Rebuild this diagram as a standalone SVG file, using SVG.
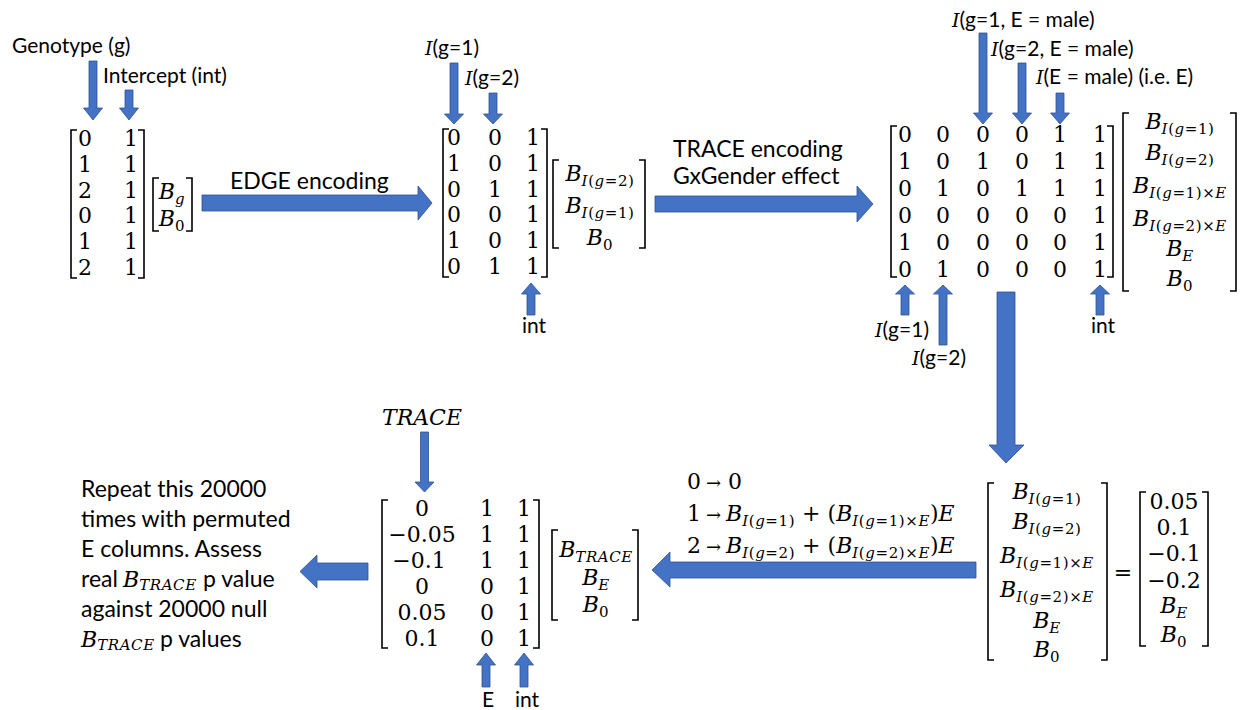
<svg xmlns="http://www.w3.org/2000/svg" width="1242" height="710" viewBox="0 0 1242 710">
<style>
.t{font-family:Lato,"Liberation Sans",sans-serif;font-size:21px;fill:#000}
.tb{font-family:Lato,"Liberation Sans",sans-serif;font-size:23px;fill:#000}
.m{font-family:"DejaVu Serif","Liberation Serif",serif;font-size:22px;fill:#000}
.mm{text-anchor:middle}
.i{font-style:italic}
.s{font-size:15px;letter-spacing:0.6px}
.arr{font-size:18px}
.li{font-family:"DejaVu Serif","Liberation Serif",serif;font-style:italic;font-size:19px}
.br{fill:none;stroke:#000;stroke-width:1.6}
.ar{fill:#4472C4;stroke:#2F528F;stroke-width:0.8}
</style>
<rect width="1242" height="710" fill="#fff"/>

<g id="connectors">
  <polygon class="ar" points="89,61 97,61 97,108 102.5,108 93,120 83.5,108 89,108"/>
  <polygon class="ar" points="125,90 133,90 133,108 138.5,108 129,120 119.5,108 125,108"/>
  <polygon class="ar" points="202,195 418,195 418,186 432,203 418,220 418,211 202,211"/>
  <polygon class="ar" points="450,63 458,63 458,114 463.5,114 454,124 444.5,114 450,114"/>
  <polygon class="ar" points="489,93 497,93 497,114 502.5,114 493,124 483.5,114 489,114"/>
  <polygon class="ar" points="531,283 540.5,294 535,294 535,315 527,315 527,294 521.5,294"/>
  <polygon class="ar" points="655,196 857,196 857,186 873,204 857,222 857,212 655,212"/>
  <polygon class="ar" points="979,33 987,33 987,113 992.5,113 983,124 973.5,113 979,113"/>
  <polygon class="ar" points="1018,63 1026,63 1026,113 1031.5,113 1022,124 1012.5,113 1018,113"/>
  <polygon class="ar" points="1056,93 1064,93 1064,113 1069.5,113 1060,124 1050.5,113 1056,113"/>
  <polygon class="ar" points="905,285 914.5,294 909,294 909,315 901,315 901,294 895.5,294"/>
  <polygon class="ar" points="943,285 952.5,294 947,294 947,345 939,345 939,294 933.5,294"/>
  <polygon class="ar" points="1100,285 1109.5,294 1104,294 1104,315 1096,315 1096,294 1090.5,294"/>
  <polygon class="ar" points="997,292 1015,292 1015,445 1024,445 1006,463 989,445 997,445"/>
  <polygon class="ar" points="976,562 976,578 670,578 670,587 652,570 670,552 670,562"/>
  <polygon class="ar" points="420.5,432 428.5,432 428.5,482 434,482 424.5,492 415,482 420.5,482"/>
  <polygon class="ar" points="486,653 495.5,665 490,665 490,687 482,687 482,665 476.5,665"/>
  <polygon class="ar" points="524,653 533.5,665 528,665 528,687 520,687 520,665 514.5,665"/>
  <polygon class="ar" points="368,563 368,580 317,580 317,588 300,571.5 317,555 317,563"/>
</g>

<g id="labels-edge">
  <text class="t" x="12" y="53">Genotype (g)</text>
  <text class="t" x="103" y="83">Intercept (int)</text>
  <text class="tb" x="230" y="189">EDGE encoding</text>
  <text class="t" x="425" y="55"><tspan class="li">I</tspan>(g=1)</text>
  <text class="t" x="465" y="85"><tspan class="li">I</tspan>(g=2)</text>
  <text class="t" x="522" y="333">int</text>
</g>

<g id="matrix-genotype">
  <path class="br" d="M77,130 H71 V278 H77 M138,130 H144 V278 H138"/>
  <text class="m mm" y="146"><tspan x="85">0</tspan><tspan x="131">1</tspan></text>
  <text class="m mm" y="172"><tspan x="85">1</tspan><tspan x="131">1</tspan></text>
  <text class="m mm" y="198"><tspan x="85">2</tspan><tspan x="131">1</tspan></text>
  <text class="m mm" y="223"><tspan x="85">0</tspan><tspan x="131">1</tspan></text>
  <text class="m mm" y="249"><tspan x="85">1</tspan><tspan x="131">1</tspan></text>
  <text class="m mm" y="275"><tspan x="85">2</tspan><tspan x="131">1</tspan></text>
</g>
<g id="vector-genotype">
  <path class="br" d="M159,178 H153 V231 H159 M186,178 H192 V231 H186"/>
  <text class="m mm" x="172" y="199"><tspan class="i">B</tspan><tspan class="s i" dy="5">g</tspan></text>
  <text class="m mm" x="172" y="226"><tspan class="i">B</tspan><tspan class="s" dy="5">0</tspan></text>
</g>

<g id="matrix-edge">
  <path class="br" d="M449,129 H443 V277 H449 M541,129 H547 V277 H541"/>
  <text class="m mm" y="145"><tspan x="454">0</tspan><tspan x="495">0</tspan><tspan x="533">1</tspan></text>
  <text class="m mm" y="171"><tspan x="454">1</tspan><tspan x="495">0</tspan><tspan x="533">1</tspan></text>
  <text class="m mm" y="197"><tspan x="454">0</tspan><tspan x="495">1</tspan><tspan x="533">1</tspan></text>
  <text class="m mm" y="222"><tspan x="454">0</tspan><tspan x="495">0</tspan><tspan x="533">1</tspan></text>
  <text class="m mm" y="248"><tspan x="454">1</tspan><tspan x="495">0</tspan><tspan x="533">1</tspan></text>
  <text class="m mm" y="274"><tspan x="454">0</tspan><tspan x="495">1</tspan><tspan x="533">1</tspan></text>
</g>
<g id="vector-edge">
  <path class="br" d="M559,160 H553 V248 H559 M639,160 H645 V248 H639"/>
  <text class="m mm" x="600" y="181"><tspan class="i">B</tspan><tspan class="s" dy="5"><tspan class="i">I</tspan>(<tspan class="i">g</tspan>=2)</tspan></text>
  <text class="m mm" x="600" y="213"><tspan class="i">B</tspan><tspan class="s" dy="5"><tspan class="i">I</tspan>(<tspan class="i">g</tspan>=1)</tspan></text>
  <text class="m mm" x="600" y="245"><tspan class="i">B</tspan><tspan class="s" dy="5">0</tspan></text>
</g>

<g id="labels-trace">
  <text class="tb" x="673" y="157">TRACE encoding</text>
  <text class="tb" x="673" y="184">GxGender effect</text>
  <text class="t" x="952" y="27"><tspan class="li">I</tspan>(g=1, E = male)</text>
  <text class="t" x="991" y="56"><tspan class="li">I</tspan>(g=2, E = male)</text>
  <text class="t" x="1036" y="84"><tspan class="li">I</tspan>(E = male) (i.e. E)</text>
  <text class="t" x="875" y="337"><tspan class="li">I</tspan>(g=1)</text>
  <text class="t" x="912" y="365"><tspan class="li">I</tspan>(g=2)</text>
  <text class="t" x="1091" y="333">int</text>
</g>

<g id="matrix-trace">
  <path class="br" d="M897,126 H891 V277 H897 M1107,126 H1113 V277 H1107"/>
  <text class="m mm" y="142"><tspan x="905">0</tspan><tspan x="943">0</tspan><tspan x="983">0</tspan><tspan x="1022">0</tspan><tspan x="1060">1</tspan><tspan x="1100">1</tspan></text>
  <text class="m mm" y="169"><tspan x="905">1</tspan><tspan x="943">0</tspan><tspan x="983">1</tspan><tspan x="1022">0</tspan><tspan x="1060">1</tspan><tspan x="1100">1</tspan></text>
  <text class="m mm" y="196"><tspan x="905">0</tspan><tspan x="943">1</tspan><tspan x="983">0</tspan><tspan x="1022">1</tspan><tspan x="1060">1</tspan><tspan x="1100">1</tspan></text>
  <text class="m mm" y="223"><tspan x="905">0</tspan><tspan x="943">0</tspan><tspan x="983">0</tspan><tspan x="1022">0</tspan><tspan x="1060">0</tspan><tspan x="1100">1</tspan></text>
  <text class="m mm" y="250"><tspan x="905">1</tspan><tspan x="943">0</tspan><tspan x="983">0</tspan><tspan x="1022">0</tspan><tspan x="1060">0</tspan><tspan x="1100">1</tspan></text>
  <text class="m mm" y="277"><tspan x="905">0</tspan><tspan x="943">1</tspan><tspan x="983">0</tspan><tspan x="1022">0</tspan><tspan x="1060">0</tspan><tspan x="1100">1</tspan></text>
</g>
<g id="vector-trace">
  <path class="br" d="M1129,113 H1123 V291 H1129 M1230,113 H1236 V291 H1230"/>
  <text class="m mm" x="1180" y="129"><tspan class="i">B</tspan><tspan class="s" dy="5"><tspan class="i">I</tspan>(<tspan class="i">g</tspan>=1)</tspan></text>
  <text class="m mm" x="1180" y="160"><tspan class="i">B</tspan><tspan class="s" dy="5"><tspan class="i">I</tspan>(<tspan class="i">g</tspan>=2)</tspan></text>
  <text class="m mm" x="1180" y="193"><tspan class="i">B</tspan><tspan class="s" dy="5"><tspan class="i">I</tspan>(<tspan class="i">g</tspan>=1)×<tspan class="i">E</tspan></tspan></text>
  <text class="m mm" x="1180" y="226"><tspan class="i">B</tspan><tspan class="s" dy="5"><tspan class="i">I</tspan>(<tspan class="i">g</tspan>=2)×<tspan class="i">E</tspan></tspan></text>
  <text class="m mm" x="1180" y="256"><tspan class="i">B</tspan><tspan class="s i" dy="5">E</tspan></text>
  <text class="m mm" x="1180" y="286"><tspan class="i">B</tspan><tspan class="s" dy="5">0</tspan></text>
</g>

<g id="coefficients">
  <path class="br" d="M994,483 H988 V660 H994 M1101,483 H1107 V660 H1101"/>
  <text class="m mm" x="1047" y="499"><tspan class="i">B</tspan><tspan class="s" dy="5"><tspan class="i">I</tspan>(<tspan class="i">g</tspan>=1)</tspan></text>
  <text class="m mm" x="1047" y="529"><tspan class="i">B</tspan><tspan class="s" dy="5"><tspan class="i">I</tspan>(<tspan class="i">g</tspan>=2)</tspan></text>
  <text class="m mm" x="1047" y="563"><tspan class="i">B</tspan><tspan class="s" dy="5"><tspan class="i">I</tspan>(<tspan class="i">g</tspan>=1)×<tspan class="i">E</tspan></tspan></text>
  <text class="m mm" x="1047" y="597"><tspan class="i">B</tspan><tspan class="s" dy="5"><tspan class="i">I</tspan>(<tspan class="i">g</tspan>=2)×<tspan class="i">E</tspan></tspan></text>
  <text class="m mm" x="1047" y="628"><tspan class="i">B</tspan><tspan class="s i" dy="5">E</tspan></text>
  <text class="m mm" x="1047" y="657"><tspan class="i">B</tspan><tspan class="s" dy="5">0</tspan></text>
  <text class="m mm" x="1123" y="580">=</text>
  <path class="br" d="M1146,492 H1140 V646 H1146 M1202,492 H1208 V646 H1202"/>
  <text class="m mm" x="1174" y="509">0.05</text>
  <text class="m mm" x="1174" y="535">0.1</text>
  <text class="m mm" x="1174" y="561">−0.1</text>
  <text class="m mm" x="1174" y="588">−0.2</text>
  <text class="m mm" x="1174" y="613"><tspan class="i">B</tspan><tspan class="s i" dy="5">E</tspan></text>
  <text class="m mm" x="1174" y="642"><tspan class="i">B</tspan><tspan class="s" dy="5">0</tspan></text>
</g>

<g id="mapping">
  <text class="m" y="489"><tspan x="687">0</tspan><tspan x="706" class="arr">→</tspan><tspan x="728">0</tspan></text>
  <text class="m" y="521"><tspan x="687">1</tspan><tspan x="706" class="arr">→</tspan><tspan x="726" class="i">B</tspan><tspan class="s" dy="5"><tspan class="i">I</tspan>(<tspan class="i">g</tspan>=1)</tspan><tspan dy="-5"> + (</tspan><tspan class="i">B</tspan><tspan class="s" dy="5"><tspan class="i">I</tspan>(<tspan class="i">g</tspan>=1)×<tspan class="i">E</tspan></tspan><tspan dy="-5">)</tspan><tspan class="i">E</tspan></text>
  <text class="m" y="553"><tspan x="687">2</tspan><tspan x="706" class="arr">→</tspan><tspan x="726" class="i">B</tspan><tspan class="s" dy="5"><tspan class="i">I</tspan>(<tspan class="i">g</tspan>=2)</tspan><tspan dy="-5"> + (</tspan><tspan class="i">B</tspan><tspan class="s" dy="5"><tspan class="i">I</tspan>(<tspan class="i">g</tspan>=2)×<tspan class="i">E</tspan></tspan><tspan dy="-5">)</tspan><tspan class="i">E</tspan></text>
</g>

<g id="labels-final">
  <text class="m i mm" x="422" y="425">TRACE</text>
  <text class="t mm" x="488" y="707">E</text>
  <text class="t mm" x="527" y="707">int</text>
</g>

<g id="matrix-final">
  <path class="br" d="M388,500 H382 V648 H388 M533,500 H539 V648 H533"/>
  <text class="m mm" y="516"><tspan x="422">0</tspan><tspan x="487">1</tspan><tspan x="524">1</tspan></text>
  <text class="m mm" y="542"><tspan x="422">−0.05</tspan><tspan x="487">1</tspan><tspan x="524">1</tspan></text>
  <text class="m mm" y="568"><tspan x="419">−0.1</tspan><tspan x="487">1</tspan><tspan x="524">1</tspan></text>
  <text class="m mm" y="594"><tspan x="422">0</tspan><tspan x="487">0</tspan><tspan x="524">1</tspan></text>
  <text class="m mm" y="620"><tspan x="422">0.05</tspan><tspan x="487">0</tspan><tspan x="524">1</tspan></text>
  <text class="m mm" y="646"><tspan x="422">0.1</tspan><tspan x="487">0</tspan><tspan x="524">1</tspan></text>
</g>
<g id="vector-final">
  <path class="br" d="M558,530 H552 V620 H558 M632,530 H638 V620 H632"/>
  <text class="m mm" x="596" y="557"><tspan class="i">B</tspan><tspan class="s i" dy="5">TRACE</tspan></text>
  <text class="m mm" x="596" y="585"><tspan class="i">B</tspan><tspan class="s i" dy="5">E</tspan></text>
  <text class="m mm" x="596" y="612"><tspan class="i">B</tspan><tspan class="s" dy="5">0</tspan></text>
</g>

<g id="permutation-note">
  <text class="tb" x="81" y="497">Repeat this 20000</text>
  <text class="tb" x="81" y="527">times with permuted</text>
  <text class="tb" x="81" y="557">E columns. Assess</text>
  <text class="tb" y="587"><tspan x="81">real</tspan><tspan x="123" class="m i">B</tspan><tspan class="m i s" dy="3">TRACE</tspan><tspan x="203" dy="-3">p value</tspan></text>
  <text class="tb" x="81" y="617">against 20000 null</text>
  <text class="tb" y="647"><tspan x="81" class="m i">B</tspan><tspan class="m i s" dy="3">TRACE</tspan><tspan x="160" dy="-3">p values</tspan></text>
</g>
</svg>
